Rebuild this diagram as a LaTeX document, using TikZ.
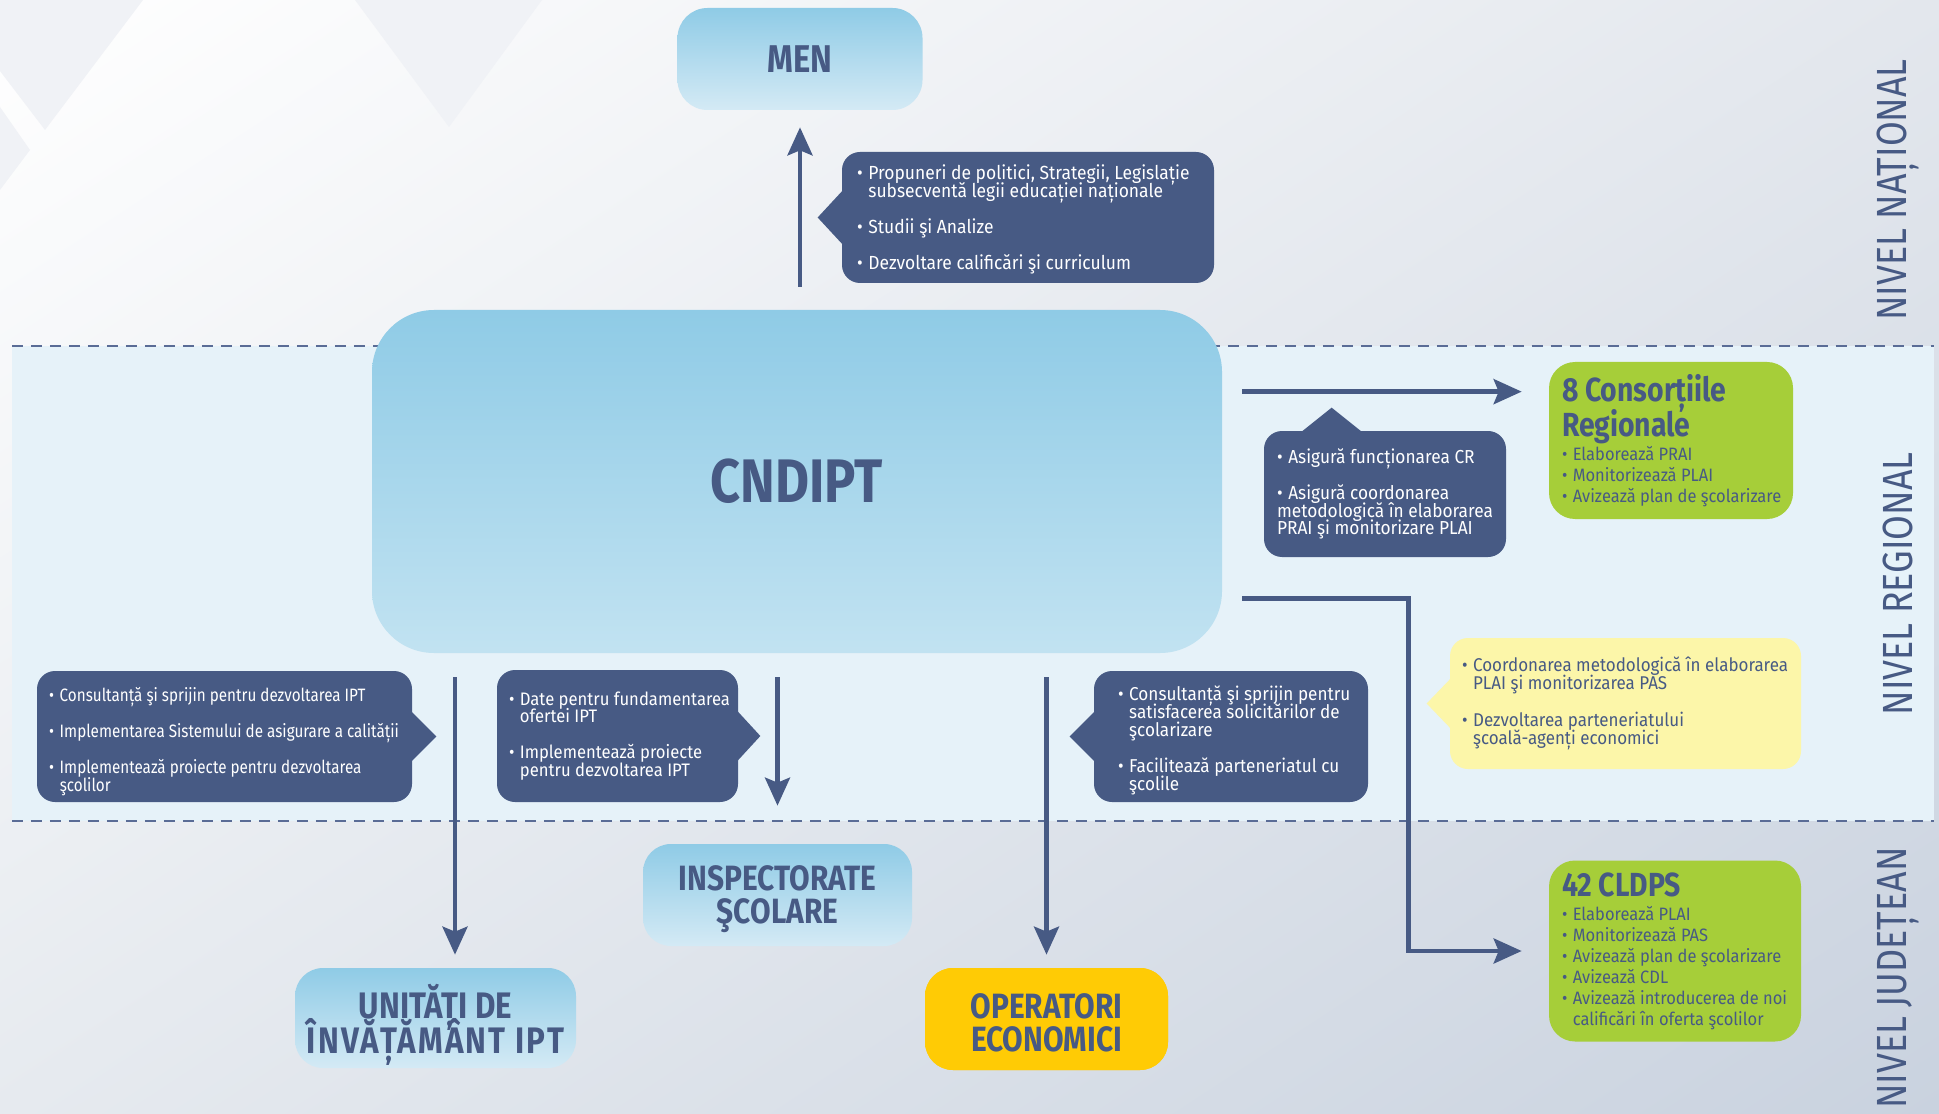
\documentclass[tikz,border=0pt]{standalone}
\usepackage{fontspec}
\setmainfont{Fira Sans}
\newfontfamily\condfont[FakeStretch=0.85]{Fira Sans}
\newfontfamily\bodyfont[FakeStretch=0.92]{Fira Sans}
\usetikzlibrary{arrows.meta,calc,shadings}
\hyphenpenalty=10000
\exhyphenpenalty=10000
\lineskiplimit=-100pt

\definecolor{navy}{HTML}{475A84}
\definecolor{skytop}{HTML}{8FCBE6}
\definecolor{skybot}{HTML}{D4EAF5}
\definecolor{leaf}{HTML}{A6CE39}
\definecolor{gold}{HTML}{FFCB05}
\definecolor{paleyellow}{HTML}{FCF6A9}
\definecolor{bandblue}{HTML}{E6F2F9}
\definecolor{dashnavy}{HTML}{5A6C96}
\definecolor{bgtr}{HTML}{E3E7ED}
\definecolor{bgbl}{HTML}{E6EAEF}
\definecolor{bgbr}{HTML}{C9D2DF}
\definecolor{bgtri}{HTML}{F0F2F6}

\newcommand{\bul}{\makebox[0.6em][l]{•}}
\newcommand{\hang}{\hspace*{0.6em}}
\newcommand{\boxtitle}{\condfont\bfseries\fontsize{19}{20}\selectfont}

\tikzset{
  sz/.style 2 args={minimum width=#1*0.02cm, minimum height=#2*0.02cm},
  bluebox/.style={rounded corners=0.56cm, top color=skytop, bottom color=skybot,
    text=navy, align=center, inner sep=0pt,
    font=\condfont\bfseries\fontsize{20}{18.7}\selectfont},
  bluetext/.style={text=navy, align=center, inner sep=0pt,
    font=\condfont\bfseries\fontsize{20}{18.7}\selectfont},
  calloutbox/.style={fill=navy, rounded corners=0.36cm, inner sep=0pt},
  greenbox/.style={fill=leaf, rounded corners=0.52cm, inner sep=0pt},
  boxtext/.style={anchor=west, align=left, inner sep=0pt, text=white,
    font=\bodyfont\fontsize{10.7}{10.2}\selectfont},
  greentext/.style={boxtext, text=navy, font=\bodyfont\fontsize{10.2}{11.9}\selectfont},
  arr/.style={draw=navy, line width=0.09cm,
    -{Stealth[length=0.56cm,width=0.5cm,inset=0.1cm]}},
  levelname/.style={rotate=90, text=navy, font=\condfont\fontsize{24}{24}\selectfont},
  bandline/.style={draw=dashnavy, line width=0.04cm, dash pattern=on 0.22cm off 0.16cm},
}

\begin{document}
\begin{tikzpicture}[x=0.02cm, y=-0.02cm]
\useasboundingbox (0,0) rectangle (1939,1114);
\clip (0,0) rectangle (1939,1114);

% background
\shade[upper left=white, upper right=bgtr, lower left=bgbl, lower right=bgbr] (0,0) rectangle (1939,1114);
\fill[bgtri] (0,0) -- (143,0) -- (45,130) -- (0,71) -- cycle;
\fill[bgtri] (355,0) -- (542,0) -- (449,127) -- cycle;
\fill[bgtri] (0,107) -- (30,150) -- (0,190) -- cycle;

% regional band
\fill[bandblue] (12,346) rectangle (1934,821);
\draw[bandline] (12,346) -- (1934,346);
\draw[bandline] (12,821) -- (1934,821);

\node[levelname] (natl) at (1898,190) {NIVEL NAȚIONAL};
\node[levelname] (regl) at (1898,584) {NIVEL REGIONAL};
\node[levelname] (jud) at (1898,978) {NIVEL JUDEȚEAN};

% main boxes
\node[bluebox, sz={245}{102}, rounded corners=0.6cm,
  font=\condfont\bfseries\fontsize{22}{22}\selectfont] (men) at (800,59) {MEN};
\node[bluebox, sz={850}{343}, rounded corners=1.24cm, bottom color=skytop!55!white,
  font=\condfont\bfseries\fontsize{35}{35}\selectfont] (cndipt) at (797,481.5) {CNDIPT};

\node[bluebox, sz={269}{102}] (insp) at (777.5,895) {};
\node[bluetext] (insptext) at ($(insp.center)+(0,4)$) {INSPECTORATE\\ŞCOLARE};
\node[bluebox, sz={281}{100}] (unit) at (435.5,1018) {};
\node[bluetext, font=\condfont\bfseries\fontsize{21}{19.6}\selectfont]
  (unittext) at ($(unit.center)+(0,7)$) {UNITĂȚI DE\\{\addfontfeature{LetterSpace=6}ÎNVĂȚĂMÂNT IPT}};
\node[bluebox, sz={243}{102}, fill=gold, top color=gold, bottom color=gold] (oper) at (1046.5,1019) {};
\node[bluetext] (opertext) at ($(oper.center)+(0,4)$) {OPERATORI\\ECONOMICI};

\node[greenbox, sz={244}{157}] (cr) at (1671,440.5) {};
\node[greentext] (crtext) at ($(cr.west)+(13,0)$)
  {{\boxtitle 8 Consorțiile}\\[8pt]{\boxtitle Regionale}\\[2.1pt]
   \bul Elaborează PRAI\\\bul Monitorizează PLAI\\\bul Avizează plan de şcolarizare};
\node[greenbox, sz={252}{181}] (cldps) at (1675,951) {};
\node[greentext] (cldpstext) at ($(cldps.west)+(13,0)$)
  {{\boxtitle 42 CLDPS}\\[2.1pt]
   \bul Elaborează PLAI\\\bul Monitorizează PAS\\\bul Avizează plan de şcolarizare\\
   \bul Avizează CDL\\\bul Avizează introducerea de noi\\\hang calificări în oferta şcolilor};

% callouts
\node[calloutbox, sz={372}{131}] (pol) at (1028,217.5) {};
\fill[navy] ($(pol.west)+(1,-27)$) -- ($(pol.west)+(-24,0)$) -- ($(pol.west)+(1,27)$) -- cycle;
\node[boxtext, font=\bodyfont\fontsize{10.8}{10.2}\selectfont] (poltext) at ($(pol.west)+(15,2)$)
  {\bul Propuneri de politici, Strategii, Legislație\\\hang subsecventă legii educației naționale\\[10.2pt]
   \bul Studii şi Analize\\[10.2pt]
   \bul Dezvoltare calificări şi curriculum};

\node[calloutbox, sz={242}{126}] (asig) at (1385,494) {};
\fill[navy] ($(asig.north west)+(38,1)$) -- ($(asig.north west)+(68,-23)$) -- ($(asig.north west)+(98,1)$) -- cycle;
\node[boxtext] (asigtext) at ($(asig.west)+(13,0)$)
  {\bul Asigură funcționarea CR\\[10.2pt]
   \bul Asigură coordonarea\\metodologică în elaborarea\\PRAI şi monitorizare PLAI};

\node[calloutbox, sz={351}{131}, fill=paleyellow] (parten) at (1625.5,703.5) {};
\fill[paleyellow] ($(parten.west)+(1,-25)$) -- ($(parten.west)+(-23,0)$) -- ($(parten.west)+(1,25)$) -- cycle;
\node[boxtext, text=navy, font=\bodyfont\fontsize{10.5}{10.4}\selectfont] (partentext) at ($(parten.west)+(12,0)$)
  {\bul Coordonarea metodologică în elaborarea\\\hang PLAI şi monitorizarea PAS\\[10.4pt]
   \bul Dezvoltarea parteneriatului\\\hang şcoală-agenți economici};

\node[calloutbox, sz={375}{131}] (cons) at (224.5,736.5) {};
\fill[navy] ($(cons.east)+(-1,-25)$) -- ($(cons.east)+(24,0)$) -- ($(cons.east)+(-1,25)$) -- cycle;
\node[boxtext, font=\condfont\fontsize{10.2}{10.2}\selectfont] (constext) at ($(cons.west)+(12,5)$)
  {\bul Consultanță şi sprijin pentru dezvoltarea IPT\\[10.2pt]
   \bul Implementarea Sistemului de asigurare a calității\\[10.2pt]
   \bul Implementează proiecte pentru dezvoltarea\\\hang şcolilor};

\node[calloutbox, sz={241}{132}] (date) at (617.5,736) {};
\fill[navy] ($(date.east)+(-1,-25)$) -- ($(date.east)+(22,0)$) -- ($(date.east)+(-1,25)$) -- cycle;
\node[boxtext, font=\bodyfont\fontsize{10.3}{10.2}\selectfont] (datetext) at ($(date.west)+(12,0)$)
  {\bul Date pentru fundamentarea\\\hang ofertei IPT\\[10.2pt]
   \bul Implementează proiecte\\\hang pentru dezvoltarea IPT};

\node[calloutbox, sz={274}{131}] (oecall) at (1231,736.5) {};
\fill[navy] ($(oecall.west)+(1,-25)$) -- ($(oecall.west)+(-24,0)$) -- ($(oecall.west)+(1,25)$) -- cycle;
\node[boxtext, font=\bodyfont\fontsize{10.6}{10.2}\selectfont] (oetext) at ($(oecall.west)+(24,4)$)
  {\bul Consultanță şi sprijin pentru\\\hang satisfacerea solicitărilor de\\\hang şcolarizare\\[10.2pt]
   \bul Facilitează parteneriatul cu\\\hang şcolile};

% connectors
\draw[arr, shorten <=0.46cm, shorten >=0.34cm] (men.south |- cndipt.north) -- (men.south);
\coordinate (crin) at ($(cr.north west)+(0,30)$);
\draw[arr, shorten <=0.4cm, shorten >=0.54cm] (cndipt.east |- crin) -- (crin);
\draw[arr, shorten <=0.4cm, shorten >=0.54cm] ($(cndipt.south east)+(0,-55)$) -| ($(cldps.west)+(-140,0)$) -- (cldps.west);
\coordinate (unitin) at ($(unit.north)+(19.5,0)$);
\draw[arr, shorten <=0.48cm, shorten >=0.26cm] (unitin |- cndipt.south) -- (unitin);
\draw[arr, shorten <=0.48cm, shorten >=0.76cm] (insp.north |- cndipt.south) -- (insp.north);
\draw[arr, shorten <=0.48cm, shorten >=0.26cm] (oper.north |- cndipt.south) -- (oper.north);
\end{tikzpicture}
\end{document}
